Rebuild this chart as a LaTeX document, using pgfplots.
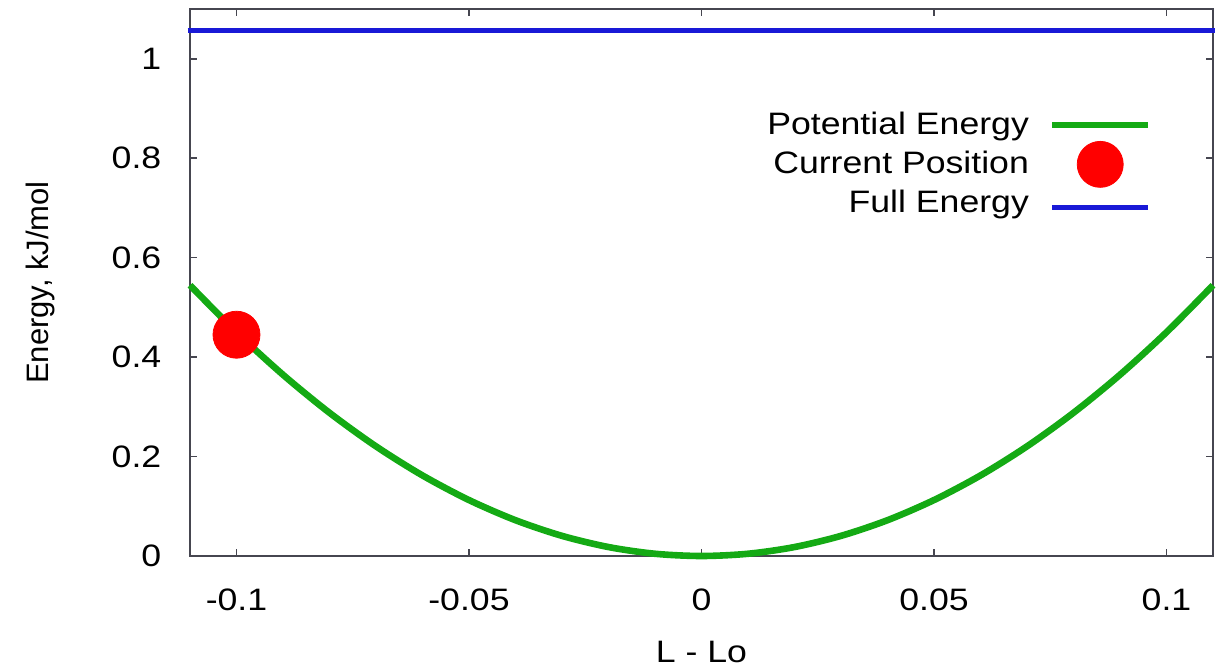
\documentclass[border=0pt]{standalone}
\usepackage{fontspec}
\setmainfont[FakeStretch=1.15]{Liberation Sans}
\newfontfamily\plainfont{Liberation Sans}
\usepackage{pgfplots}
\pgfplotsset{compat=1.18}
\usetikzlibrary{calc}
\definecolor{pegreen}{RGB}{20,170,20}
\definecolor{feblue}{RGB}{25,25,215}
\definecolor{frame}{RGB}{70,70,80}
\begin{document}
\fontsize{15.5}{18}\selectfont
\begin{tikzpicture}
\begin{axis}[
    scale only axis,
    width=511.5pt, height=273.5pt,
    xmin=-0.11, xmax=0.11,
    ymin=0, ymax=1.1,
    xtick={-0.1,-0.05,0,0.05,0.1},
    ytick={0,0.2,0.4,0.6,0.8,1},
    xticklabels={-0.1,-0.05,0,0.05,0.1},
    yticklabels={0,0.2,0.4,0.6,0.8,1},
    tick align=inside,
    major tick length=3.5pt,
    axis line style={frame, line width=0.8pt},
    tick style={frame, line width=0.8pt},
    tick label style={font=\fontsize{15.5}{18}\selectfont},
    xticklabel style={yshift=-11pt},
    yticklabel style={xshift=-9pt},
    xlabel={L - Lo},
    ylabel={Energy, kJ/mol},
    xlabel style={font=\fontsize{15.5}{18}\selectfont,
        at={(axis description cs:0.5,0)}, anchor=center, yshift=-48pt},
    ylabel style={font=\plainfont\fontsize{15.5}{18}\selectfont, yshift=18pt},
    clip=false,
    legend cell align=right,
    legend plot pos=right,
    legend style={draw=none, fill=none, at={(axis description cs:0.94,0.82)},
        anchor=north east, font=\fontsize{15.5}{18}\selectfont, row sep=-1pt,
        inner sep=0pt},
]
\addplot[pegreen, line width=3.3pt, smooth,
    legend image code/.code={\path (0pt,0pt); \draw[pegreen, line width=3pt] (8pt,0pt) -- (56pt,0pt);}]
coordinates {
    (-0.11,0.5445) (-0.10,0.45) (-0.09,0.3645) (-0.08,0.288) (-0.07,0.2205)
    (-0.06,0.162) (-0.05,0.1125) (-0.04,0.072) (-0.03,0.0405) (-0.02,0.018)
    (-0.01,0.0045) (0,0) (0.01,0.0045) (0.02,0.018) (0.03,0.0405) (0.04,0.072)
    (0.05,0.1125) (0.06,0.162) (0.07,0.2205) (0.08,0.288) (0.09,0.3645)
    (0.10,0.45) (0.11,0.5445)
};
\addlegendentry{Potential Energy}
\addplot[only marks, mark=*, mark size=11.75pt, color=red,
    legend image code/.code={\path (0pt,0pt); \fill[red] (32pt,0pt) circle (11.5pt); \path (56pt,0pt);}]
coordinates {(-0.1,0.445)};
\addlegendentry{Current Position}
\addplot[feblue, line width=2.5pt,
    legend image code/.code={\path (0pt,0pt); \draw[feblue, line width=2.5pt] (8pt,-2pt) -- (56pt,-2pt);}]
coordinates {(-0.1105,1.057) (0.1105,1.057)};
\addlegendentry{Full Energy}
\end{axis}
\pgfresetboundingbox
\path ($(current axis.south west)+(-95pt,-57pt)$) rectangle ($(current axis.north east)+(7.5pt,4.5pt)$);
\end{tikzpicture}
\end{document}
